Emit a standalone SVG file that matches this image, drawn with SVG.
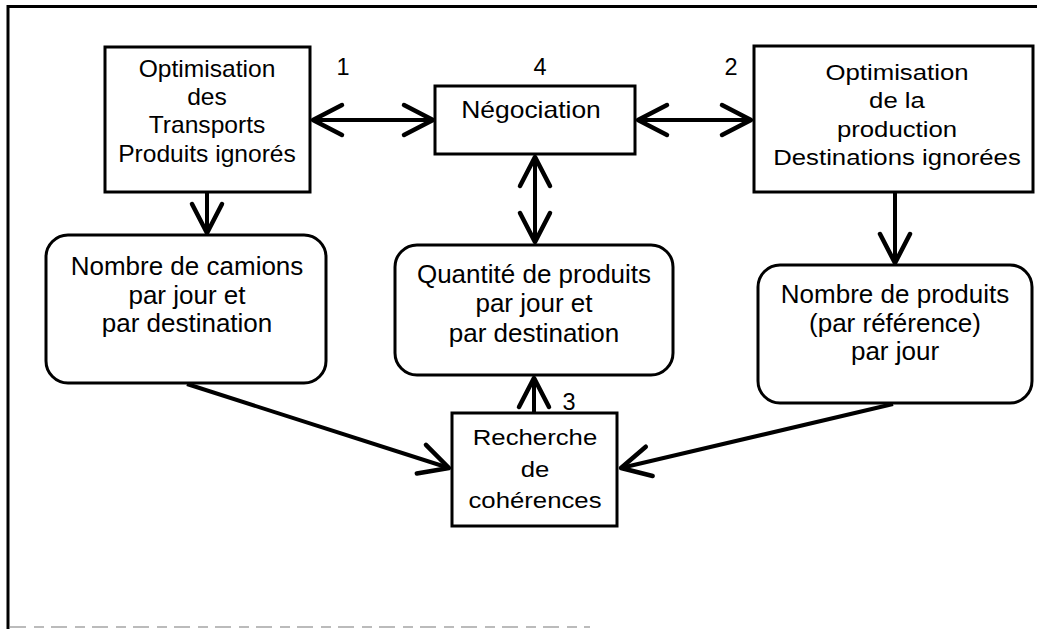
<svg xmlns="http://www.w3.org/2000/svg" width="1037" height="629" viewBox="0 0 1037 629">
<style>
  .box { fill: #fff; stroke: #000; stroke-width: 3; }
  .t { font-family: "Liberation Sans", Arial, sans-serif; fill: #000; text-anchor: middle; }
  .tr { font-size: 26px; }
  .ts { font-size: 23px; }
  .num { font-family: "Liberation Sans", Arial, sans-serif; font-size: 23.5px; fill: #000; text-anchor: middle; }
  .conn { stroke: #000; stroke-width: 4; fill: none; }
</style>
<defs>
  <marker id="arr" markerUnits="userSpaceOnUse" viewBox="-34 -20 40 40" markerWidth="40" markerHeight="40" refX="0" refY="0" orient="auto-start-reverse" overflow="visible">
    <path d="M -29 -15 L 0 0 L -29 15" fill="none" stroke="#000" stroke-width="4.5" stroke-linecap="round" stroke-linejoin="round"/>
  </marker>
</defs>
<rect width="1037" height="629" fill="#fff"/>
<g id="frame">
  <line x1="7" y1="6.5" x2="1037" y2="6.5" stroke="#000" stroke-width="3"/>
  <line x1="8" y1="5" x2="8" y2="629" stroke="#000" stroke-width="3"/>
  <line x1="10" y1="627" x2="590" y2="627" stroke="#bbb" stroke-width="2" stroke-dasharray="16 8 10 7"/>
</g>
<g id="connectors">
  <line class="conn" x1="313" y1="120" x2="433" y2="120" marker-start="url(#arr)" marker-end="url(#arr)"/>
  <line class="conn" x1="638" y1="120" x2="751" y2="120" marker-start="url(#arr)" marker-end="url(#arr)"/>
  <line class="conn" x1="535" y1="157" x2="535" y2="242" marker-start="url(#arr)" marker-end="url(#arr)"/>
  <line class="conn" x1="207" y1="192" x2="207" y2="233" marker-end="url(#arr)"/>
  <line class="conn" x1="895" y1="192" x2="895" y2="263" marker-end="url(#arr)"/>
  <line class="conn" x1="534" y1="413" x2="534" y2="378" marker-end="url(#arr)"/>
  <line class="conn" x1="187" y1="384" x2="449" y2="468" marker-end="url(#arr)"/>
  <line class="conn" x1="893" y1="404" x2="621" y2="468" marker-end="url(#arr)"/>
</g>
<g id="labels">
  <text class="num" x="343" y="75">1</text>
  <text class="num" x="540" y="75">4</text>
  <text class="num" x="731" y="75">2</text>
  <text class="num" x="569" y="410">3</text>
</g>
<g id="opt-transports">
  <rect class="box" x="105" y="47" width="205" height="145"/>
  <g transform="translate(207 0) scale(1.07 1)">
    <text class="t ts" x="0" y="77">Optimisation</text>
    <text class="t ts" x="0" y="105">des</text>
    <text class="t ts" x="0" y="133.5">Transports</text>
    <text class="t ts" x="0" y="162">Produits ignorés</text>
  </g>
</g>
<g id="negociation">
  <rect class="box" x="435" y="86" width="200" height="68"/>
  <g transform="translate(531 0) scale(1.15 1)">
    <text class="t ts" x="0" y="118">Négociation</text>
  </g>
</g>
<g id="opt-production">
  <rect class="box" x="754" y="46" width="279" height="146"/>
  <g transform="translate(897 0) scale(1.12 1)">
    <text class="t ts" x="0" y="80">Optimisation</text>
    <text class="t ts" x="0" y="108.5">de la</text>
    <text class="t ts" x="0" y="137">production</text>
    <text class="t ts" x="0" y="165.5">Destinations ignorées</text>
  </g>
</g>
<g id="camions">
  <rect class="box" x="46" y="235" width="280" height="148" rx="22" ry="22"/>
  <text class="t tr" x="187" y="275">Nombre de camions</text>
  <text class="t tr" x="187" y="303.5">par jour et</text>
  <text class="t tr" x="187" y="332">par destination</text>
</g>
<g id="quantite">
  <rect class="box" x="395" y="245" width="278" height="130" rx="22" ry="22"/>
  <text class="t tr" x="534" y="283">Quantité de produits</text>
  <text class="t tr" x="534" y="312">par jour et</text>
  <text class="t tr" x="534" y="342">par destination</text>
</g>
<g id="produits">
  <rect class="box" x="758" y="265" width="274" height="138" rx="22" ry="22"/>
  <text class="t tr" x="895" y="303">Nombre de produits</text>
  <text class="t tr" x="895" y="332">(par référence)</text>
  <text class="t tr" x="895" y="360">par jour</text>
</g>
<g id="coherences">
  <rect class="box" x="452" y="413" width="165" height="113"/>
  <g transform="translate(535 0) scale(1.12 1)">
    <text class="t ts" x="0" y="445">Recherche</text>
    <text class="t ts" x="0" y="477">de</text>
    <text class="t ts" x="0" y="508">cohérences</text>
  </g>
</g>
</svg>
